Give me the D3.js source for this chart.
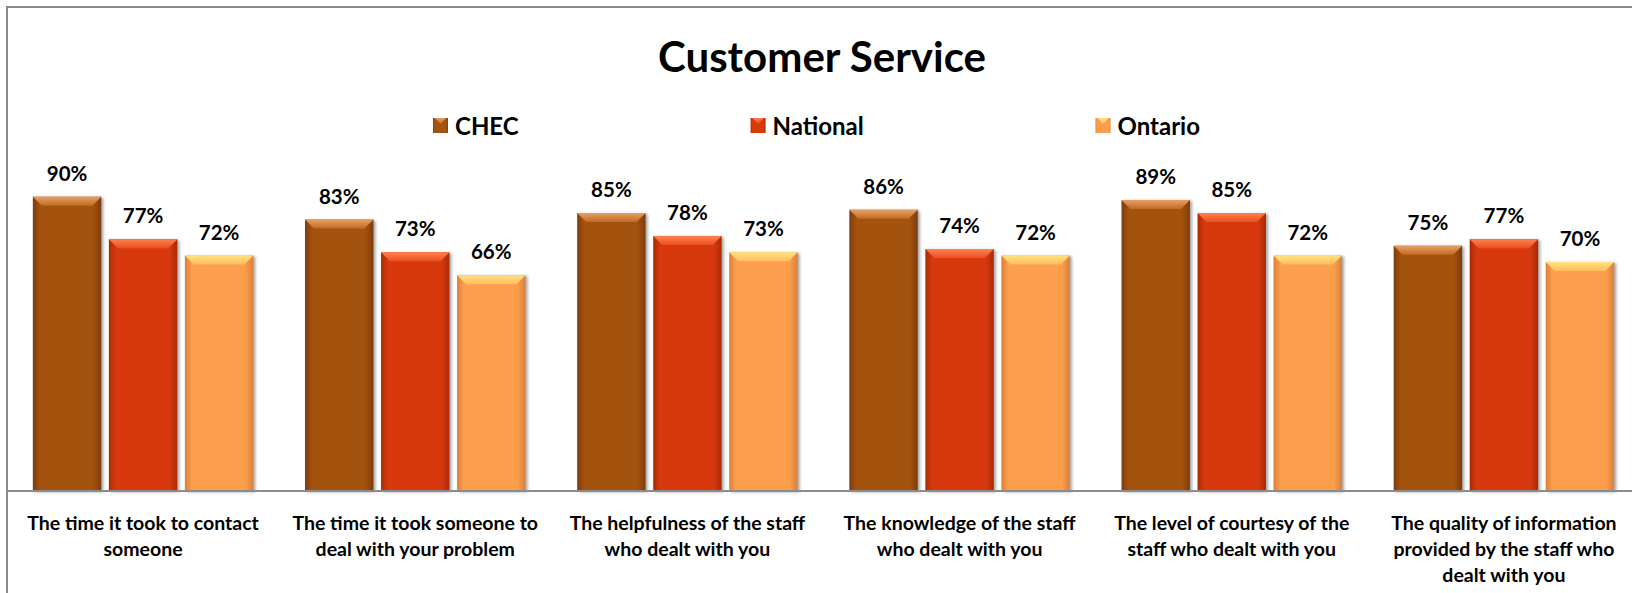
<!DOCTYPE html>
<html>
<head>
<meta charset="utf-8">
<script src="https://cdn.jsdelivr.net/npm/d3@7/dist/d3.min.js"></script>
<style>
  html, body { margin: 0; padding: 0; background: #ffffff; }
  svg { display: block; }
  text { font-family: Lato, "Open Sans", "Noto Sans", sans-serif; font-weight: bold; fill: #000; }
</style>
</head>
<body>
<svg id="chart" width="1632" height="593"></svg>
<script>
// ---- data ----
const categories = [
  "The time it took to contact someone",
  "The time it took someone to deal with your problem",
  "The helpfulness of the staff who dealt with you",
  "The knowledge of the staff who dealt with you",
  "The level of courtesy of the staff who dealt with you",
  "The quality of information provided by the staff who dealt with you"
];
const categoryLines = [
  ["The time it took to contact", "someone"],
  ["The time it took someone to", "deal with your problem"],
  ["The helpfulness of the staff", "who dealt with you"],
  ["The knowledge of the staff", "who dealt with you"],
  ["The level of courtesy of the", "staff who dealt with you"],
  ["The quality of information", "provided by the staff who", "dealt with you"]
];
const seriesNames = ["CHEC", "National", "Ontario"];
const checValues = [90, 83, 85, 86, 89, 75];
const nationalValues = [77, 73, 78, 74, 85, 77];
const ontarioValues = [72, 66, 73, 72, 72, 70];
const title = "Customer Service";

const seriesValues = [checValues, nationalValues, ontarioValues];

// colour ramps per series: edge, body, bevel-light, bevel-dark
const palette = {
  CHEC:     { edge: "#7e3c08", body: "#a3520f", hi: "#e8a062", lo: "#c06a26" },
  National: { edge: "#a92a05", body: "#d8390a", hi: "#ff8050", lo: "#ea5020" },
  Ontario:  { edge: "#d9803a", body: "#fd9e4e", hi: "#ffe27e", lo: "#ffbc60" }
};

const svg = d3.select("#chart");
const W = 1632, H = 593;

// ---- frame ----
svg.append("rect")
  .attr("x", 7).attr("y", 7)
  .attr("width", W + 20).attr("height", H + 20)
  .attr("fill", "#fff")
  .attr("stroke", "#8a8a8a").attr("stroke-width", 2);

// ---- defs: gradients & shadow ----
const defs = svg.append("defs");
seriesNames.forEach((s, i) => {
  const p = palette[s];
  const g = defs.append("linearGradient").attr("id", "body" + i)
    .attr("x1", 0).attr("x2", 1).attr("y1", 0).attr("y2", 0);
  g.append("stop").attr("offset", "0").attr("stop-color", p.edge);
  g.append("stop").attr("offset", "0.1").attr("stop-color", p.body);
  g.append("stop").attr("offset", "0.88").attr("stop-color", p.body);
  g.append("stop").attr("offset", "1").attr("stop-color", p.edge);
  const t = defs.append("linearGradient").attr("id", "top" + i)
    .attr("x1", 0).attr("x2", 0).attr("y1", 0).attr("y2", 1);
  t.append("stop").attr("offset", "0").attr("stop-color", p.hi);
  t.append("stop").attr("offset", "1").attr("stop-color", p.lo);
});
const f = defs.append("filter").attr("id", "shadow")
  .attr("x", "-20%").attr("y", "-20%").attr("width", "140%").attr("height", "140%");
f.append("feDropShadow").attr("dx", 2).attr("dy", 1).attr("stdDeviation", 1.6)
  .attr("flood-color", "#555").attr("flood-opacity", 0.55);

// ---- scales ----
const baseline = 491;
const y = d3.scaleLinear().domain([0, 100]).range([baseline, 164]);
const x0 = d3.scaleBand().domain(categories).range([7, 1640])
  .paddingInner(0.19).paddingOuter(0.095);
const x1 = d3.scaleBand().domain(seriesNames).range([0, x0.bandwidth()])
  .paddingInner(0.1);

// ---- title ----
svg.append("text")
  .attr("x", 822).attr("y", 56)
  .attr("text-anchor", "middle").attr("dominant-baseline", "central")
  .style("font-size", "42px")
  .text(title);

// ---- bars ----
const rows = categories.map((c, ci) => seriesNames.map((s, si) => ({
  cat: c, series: s, si: si, value: seriesValues[si][ci]
})));

const groups = svg.selectAll("g.group").data(rows).join("g")
  .attr("class", "group")
  .attr("transform", (d, i) => `translate(${x0(categories[i])},0)`);

const bar = groups.selectAll("g.bar").data(d => d).join("g").attr("class", "bar");
const bw = x1.bandwidth();
const bev = 9;

bar.append("rect")
  .attr("x", d => x1(d.series))
  .attr("y", d => y(d.value))
  .attr("width", bw)
  .attr("height", d => baseline - y(d.value))
  .attr("fill", d => `url(#body${d.si})`)
  .attr("filter", "url(#shadow)");

bar.append("path")
  .attr("d", d => {
    const xl = x1(d.series), xr = xl + bw, yt = y(d.value);
    return `M${xl},${yt} L${xr},${yt} L${xr - bev},${yt + bev} L${xl + bev},${yt + bev} Z`;
  })
  .attr("fill", d => `url(#top${d.si})`);

bar.append("text")
  .attr("x", d => x1(d.series) + bw / 2)
  .attr("y", d => y(d.value) - 24)
  .attr("text-anchor", "middle").attr("dominant-baseline", "central")
  .style("font-size", "20.5px")
  .text(d => d.value + "%");

// ---- axis line ----
svg.append("line")
  .attr("x1", 7).attr("x2", W)
  .attr("y1", baseline).attr("y2", baseline)
  .attr("stroke", "#8c8c8c").attr("stroke-width", 2);

// ---- category labels ----
const lab = svg.selectAll("text.cat").data(categories).join("text")
  .attr("class", "cat")
  .attr("text-anchor", "middle")
  .style("font-size", "19.5px");
lab.each(function(c, i) {
  const cx = x0(c) + x0.bandwidth() / 2;
  d3.select(this).selectAll("tspan").data(categoryLines[i]).join("tspan")
    .attr("x", cx)
    .attr("y", (l, k) => 522 + k * 26)
    .attr("dominant-baseline", "central")
    .text(l => l);
});

// ---- legend ----
const legend = svg.append("g").attr("class", "legend");
const items = legend.selectAll("g").data(seriesNames).join("g");
items.append("rect")
  .attr("width", 15).attr("height", 15).attr("y", 118)
  .attr("fill", (d, i) => `url(#body${i})`);
items.append("path")
  .attr("d", "M2,118 L13,118 L7.5,124 Z")
  .attr("fill", (d, i) => `url(#top${i})`);
items.append("text")
  .attr("x", 22).attr("y", 125.5)
  .attr("dominant-baseline", "central")
  .style("font-size", "24px")
  .text(d => d);
// spread items evenly across the legend span
const widths = [];
items.each(function() { widths.push(this.getBBox().width); });
const spanStart = 433, spanEnd = 1200;
const gap = (spanEnd - spanStart - d3.sum(widths)) / (widths.length - 1);
let cur = spanStart;
items.attr("transform", (d, i) => {
  const t = `translate(${cur},0)`;
  cur += widths[i] + gap;
  return t;
});
</script>
</body>
</html>
